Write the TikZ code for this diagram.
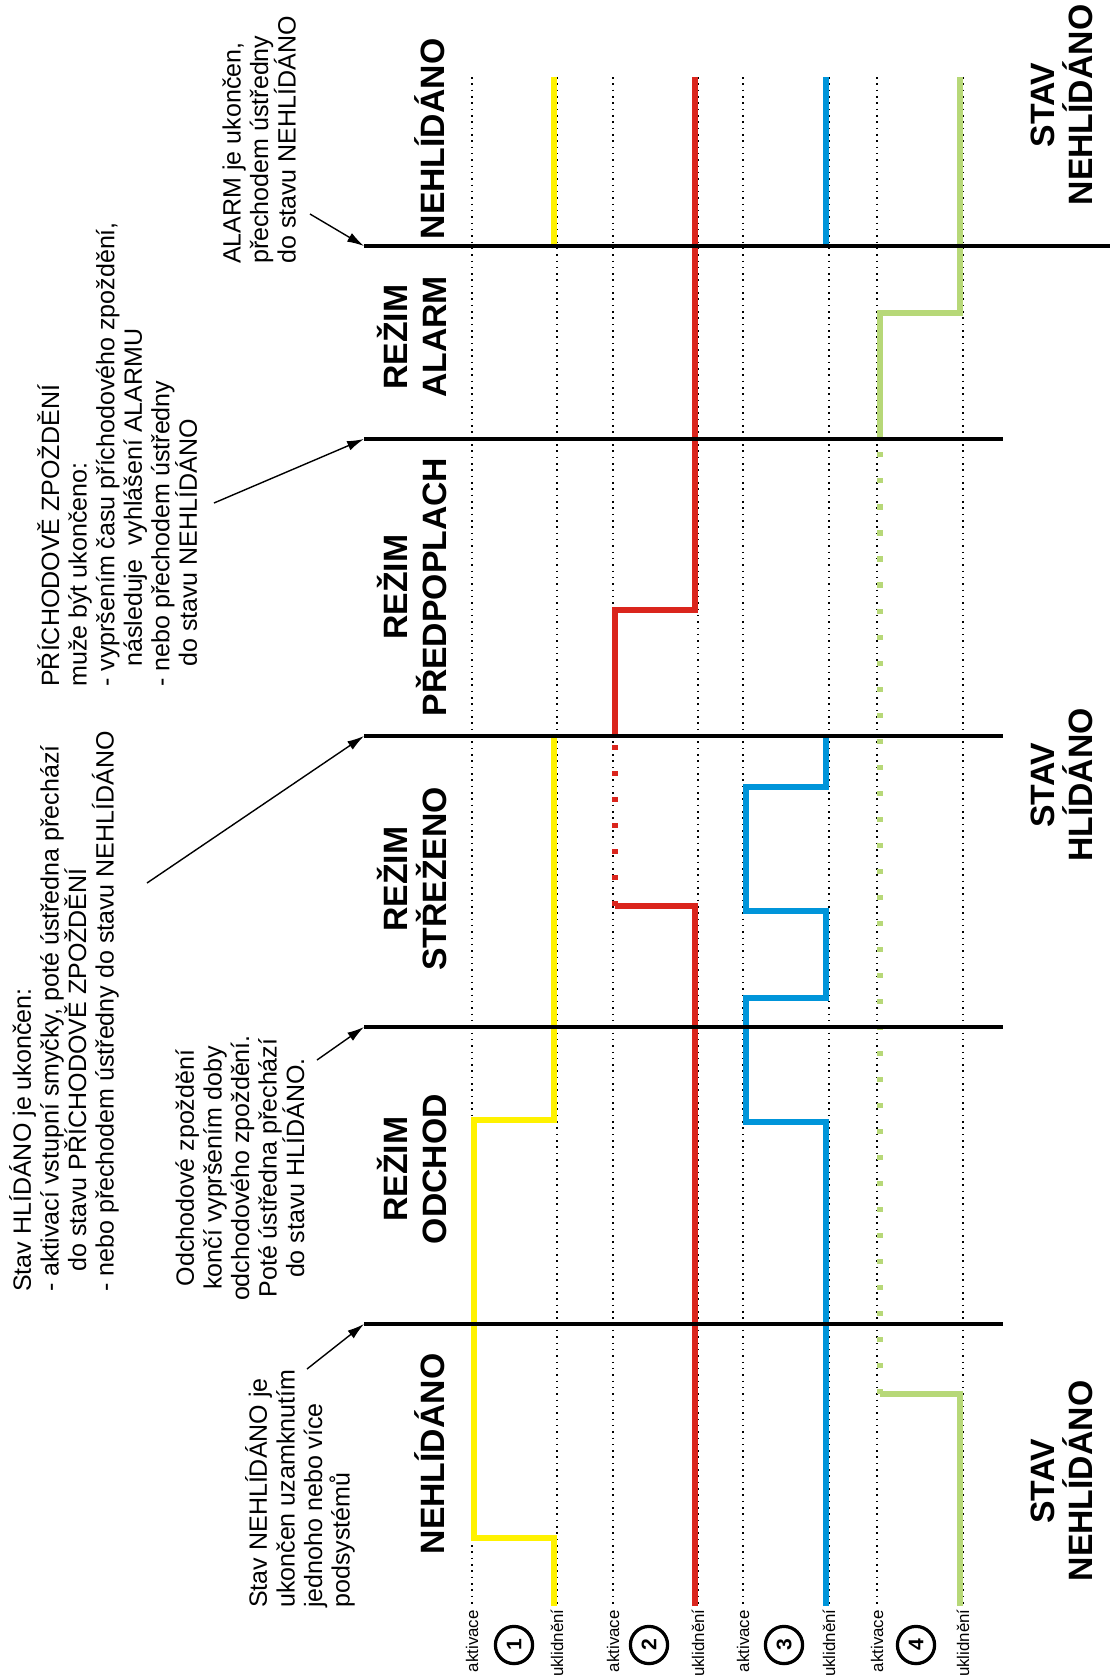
\documentclass[tikz,border=0pt]{standalone}
\usepackage{fontspec}
\setmainfont{Liberation Sans}
\usetikzlibrary{arrows.meta}

\definecolor{zluta}{RGB}{255,242,0}
\definecolor{cervena}{RGB}{218,37,29}
\definecolor{modra}{RGB}{0,149,218}
\definecolor{zelena}{RGB}{183,216,120}

\begin{document}
\begin{tikzpicture}[x=0.025cm,y=-0.025cm,
    mez/.style={line width=2.2pt},
    tecky/.style={line width=1.1pt, dash pattern=on 1.1pt off 3.4pt},
    signal/.style={line width=3.6pt},
    prerus/.style={line width=3.6pt, dash pattern=on 3.6pt off 14.9pt},
    rezim/.style={rotate=90, inner sep=0pt, align=center, font=\fontsize{24}{27.5}\selectfont\bfseries},
    popis/.style={rotate=90, inner sep=0pt, align=left, anchor=north west, font=\fontsize{17.8}{19.6}\selectfont},
    maly/.style={rotate=90, inner sep=0pt, anchor=east, font=\fontsize{12}{14}\selectfont},
    cislo/.style={circle, draw, rotate=90, line width=2.3pt, minimum size=0.93cm, inner sep=0pt, font=\fontsize{15}{15}\selectfont\bfseries},
    sipka/.style={-{Latex[length=12pt,width=7pt]}, line width=1pt}]
\useasboundingbox (0,0) rectangle (1110,1678);

% teckovane cary aktivace / uklidneni
\foreach \x in {472,613,743,877} \draw[tecky] (\x,77) -- (\x,1608);
\foreach \x in {557,698,829,963} \draw[tecky] (\x,77) -- (\x,1608);

\foreach \x/\n in {472/1,613/2,743/3,877/4} \node[maly] (akt\n) at (\x,1610) {aktivace};
\foreach \x/\n in {557/1,698/2,829/3,963/4} \node[maly] (ukl\n) at (\x,1609) {uklidnění};
\foreach \x/\n in {514/1,649/2,784/3,916/4} \node[cislo] (c\n) at (\x,1645) {\n};

% smycka 1
\draw[signal,zluta] (554,1606) -- (554,1538) -- (474,1538) -- (474,1120) -- (554,1120) -- (554,736);
\draw[signal,zluta] (554,246) -- (554,77);

% smycka 2
\draw[signal,cervena] (695,1606) -- (695,906) -- (615,906);
\draw[prerus,cervena] (615,906) -- (615,736);
\draw[signal,cervena] (615,736) -- (615,610) -- (695,610) -- (695,77);

% smycka 3
\draw[signal,modra] (826,1606) -- (826,1122) -- (746,1122) -- (746,998) -- (826,998) -- (826,911) -- (746,911) -- (746,787) -- (826,787) -- (826,736);
\draw[signal,modra] (826,246) -- (826,77);

% smycka 4
\draw[signal,zelena] (960,1606) -- (960,1394) -- (880,1394);
\draw[prerus,zelena] (880,1394) -- (880,439);
\draw[signal,zelena] (880,439) -- (880,313) -- (960,313) -- (960,77);

% hranice rezimu
\coordinate (k1) at (364,246);
\coordinate (k2) at (364,439);
\coordinate (k3) at (364,736);
\coordinate (k4) at (364,1027);
\coordinate (k5) at (364,1324);
\draw[mez] (k1) -- (1110,246);
\draw[mez] (k2) -- (1003,439);
\draw[mez] (k3) -- (1003,736);
\draw[mez] (k4) -- (1003,1027);
\draw[mez] (k5) -- (1003,1324);

% rezimy a stavy
\node[rezim] (nehl1) at (430,139) {NEHLÍDÁNO};
\node[rezim] (alarm) at (412,337) {REŽIM\\ALARM};
\node[rezim] (predpo) at (412,587) {REŽIM\\PŘEDPOPLACH};
\node[rezim] (strez) at (412,879) {REŽIM\\STŘEŽENO};
\node[rezim] (odch) at (412,1169) {REŽIM\\ODCHOD};
\node[rezim] (nehl0) at (430,1454) {NEHLÍDÁNO};

\node[rezim] (stav2) at (1062,105) {STAV\\NEHLÍDÁNO};
\node[rezim] (stav1) at (1062,785) {STAV\\HLÍDÁNO};
\node[rezim] (stav0) at (1062,1481) {STAV\\NEHLÍDÁNO};

% poznamky
\node[popis] (pozn1) at (245,1608) {Stav NEHLÍDÁNO je\\ukončen uzamknutím\\jednoho nebo více\\podsystémů};
\node[popis, anchor=center, align=center] (pozn2) at (240,1168) {Odchodové zpoždění\\končí vypršením doby\\odchodového zpoždění.\\Poté ústředna přechází\\do stavu HLÍDÁNO.};
\node[popis] (pozn3) at (9,1292) {Stav HLÍDÁNO je ukončen:\\- aktivací vstupní smyčky, poté ústředna přechází\\\hspace*{0.8em}do stavu PŘÍCHODOVĚ ZPOŽDĚNÍ\\- nebo přechodem ústředny do stavu NEHLÍDÁNO};
\node[popis] (pozn4) at (37,687) {PŘÍCHODOVĚ ZPOŽDĚNÍ\\muže být ukončeno:\\- vypršením času příchodového zpoždění,\\\hspace*{0.8em}následuje\ \ vyhlášení ALARMU\\- nebo přechodem ústředny\\\hspace*{0.8em}do stavu NEHLÍDÁNO};
\node[popis] (pozn5) at (222,264) {ALARM je ukončen,\\přechodem ústředny\\do stavu NEHLÍDÁNO};

\coordinate (t1) at (307,1369);
\coordinate (t2) at (317,1060);
\coordinate (t3) at (147,883);
\coordinate (t4) at (214,503);
\coordinate (t5) at (310,214);
\draw[sipka] (t1) -- (k5);
\draw[sipka] (t2) -- (k4);
\draw[sipka] (t3) -- (k3);
\draw[sipka] (t4) -- (k2);
\draw[sipka] (t5) -- (k1);

\end{tikzpicture}
\end{document}
